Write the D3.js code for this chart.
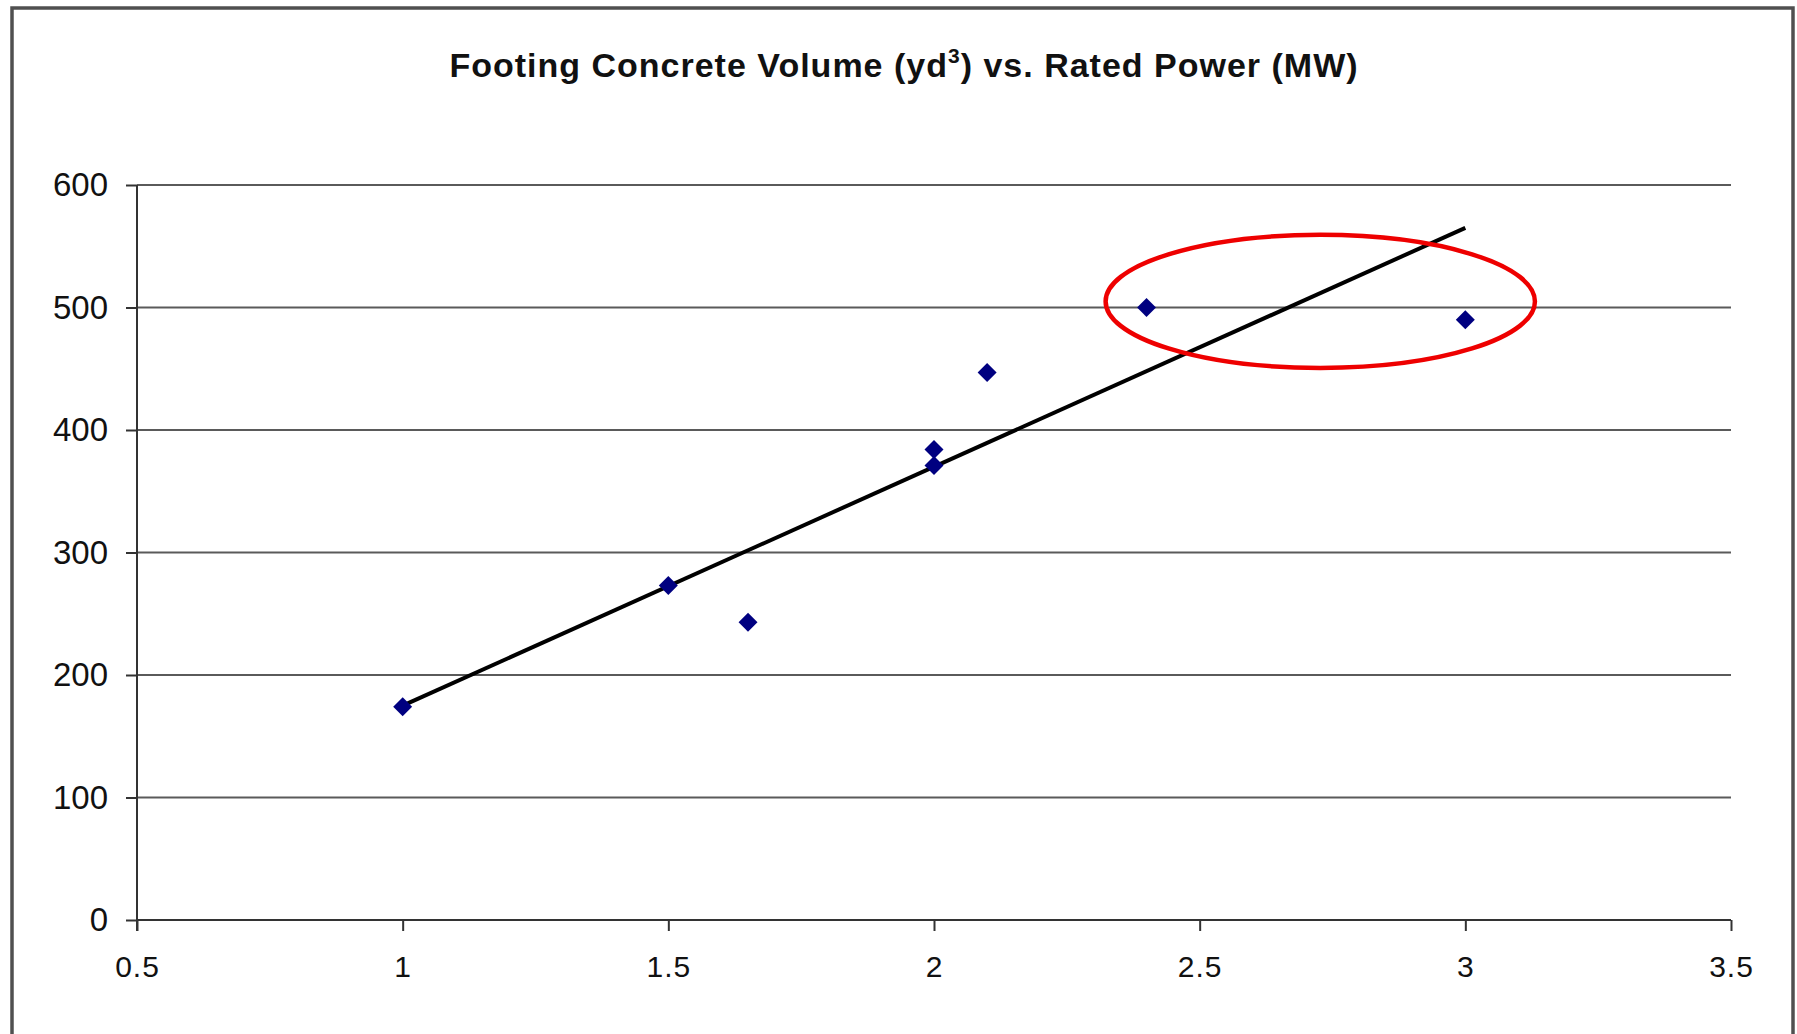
<!DOCTYPE html>
<html>
<head>
<meta charset="utf-8">
<script src="https://cdn.jsdelivr.net/npm/d3@7"></script>
<style>
    body { margin: 0; background: #fff; }
    svg { display: block; font-family: "Liberation Sans", Arial, sans-serif; }
</style>
</head>
<body>
<svg></svg>
<script>
// data
const power = [1, 1.5, 1.65, 2, 2, 2.1, 2.4, 3];           // rated power (MW)
const volume = [174, 273, 243, 384, 371, 447, 500, 490];   // footing concrete volume (yd3)
// trendline end points as drawn
const trendX = [1, 3];
const trendY = [175, 565];
// tick labels
const xTicks = [0.5, 1, 1.5, 2, 2.5, 3, 3.5];
const yTicks = [0, 100, 200, 300, 400, 500, 600];
// highlighted area (center and radii in data units)
const highlight = [2.727, 505, 0.404, 54.3];

// defining margins of the plot area
const margin = {t: 185, r: 66, b: 114, l: 137};
// size of the SVG element itself
const size = {w: 1797, h: 1034};
const svg = d3.select('svg')
    .attr('width', size.w)
    .attr('height', size.h);

// outer frame of the chart
svg.append('rect')
    .attr('x', 12)
    .attr('y', 8)
    .attr('width', 1781)
    .attr('height', 1100)
    .attr('fill', 'none')
    .attr('stroke', '#505050')
    .attr('stroke-width', 3.5);

// title
let title = svg.append('text')
    .attr('x', 904)
    .attr('y', 77)
    .attr('text-anchor', 'middle')
    .attr('font-size', 34)
    .attr('font-weight', 'bold')
    .attr('letter-spacing', 1)
    .attr('fill', '#111');
title.append('tspan').text('Footing Concrete Volume (yd');
title.append('tspan').attr('font-size', 21).attr('dy', -14).text('3');
title.append('tspan').attr('dy', 14).text(') vs. Rated Power (MW)');

let plot = {w: size.w - margin.l - margin.r, h: size.h - margin.t - margin.b};

let x = d3.scaleLinear().domain([0.5, 3.5]).range([0, plot.w]);
let y = d3.scaleLinear().domain([0, 600]).range([plot.h, 0]);

let g = svg.append('g')
    .attr('transform', 'translate(' + margin.l + ',' + margin.t + ')');

// horizontal gridlines
g.selectAll('line.grid')
    .data(yTicks.filter(d => d > 0))
    .enter()
    .append('line')
    .classed('grid', true)
    .attr('x1', 0)
    .attr('x2', plot.w)
    .attr('y1', d => y(d))
    .attr('y2', d => y(d))
    .attr('stroke', '#5a5a5a')
    .attr('stroke-width', 2);

// axes
let xAxis = g.append('g')
    .attr('transform', 'translate(0,' + plot.h + ')')
    .call(d3.axisBottom(x).tickValues(xTicks).tickSize(11).tickPadding(25).tickFormat(d3.format('')));
let yAxis = g.append('g')
    .call(d3.axisLeft(y).tickValues(yTicks).tickSize(11).tickPadding(18));

[xAxis, yAxis].forEach(a => {
    a.select('.domain').attr('stroke', '#333').attr('stroke-width', 2);
    a.selectAll('.tick line').attr('stroke', '#333').attr('stroke-width', 2);
    a.selectAll('.tick text').attr('fill', '#111').attr('font-family', '"Liberation Sans", Arial, sans-serif');
});
xAxis.select('.domain').attr('d', 'M0,0H' + plot.w);
yAxis.select('.domain').attr('d', 'M0,0V' + (plot.h + 11));
xAxis.selectAll('.tick text').attr('font-size', 30).attr('letter-spacing', 1);
yAxis.selectAll('.tick text').attr('font-size', 33);

// trendline
g.append('path')
    .datum(trendX.map((d, i) => [d, trendY[i]]))
    .attr('d', d3.line().x(d => x(d[0])).y(d => y(d[1])))
    .attr('fill', 'none')
    .attr('stroke', '#000')
    .attr('stroke-width', 4);

// data points (diamonds)
g.selectAll('path.pt')
    .data(power.map((d, i) => [d, volume[i]]))
    .enter()
    .append('path')
    .classed('pt', true)
    .attr('d', d3.symbol(d3.symbolSquare, 180))
    .attr('transform', d => 'translate(' + x(d[0]) + ',' + y(d[1]) + ') rotate(45)')
    .attr('fill', '#000080');

// red ellipse around the two top points
g.append('ellipse')
    .attr('cx', x(highlight[0]))
    .attr('cy', y(highlight[1]))
    .attr('rx', x(highlight[0] + highlight[2]) - x(highlight[0]))
    .attr('ry', y(highlight[1] - highlight[3]) - y(highlight[1]))
    .attr('fill', 'none')
    .attr('stroke', '#ee0000')
    .attr('stroke-width', 4.5);
</script>
</body>
</html>
